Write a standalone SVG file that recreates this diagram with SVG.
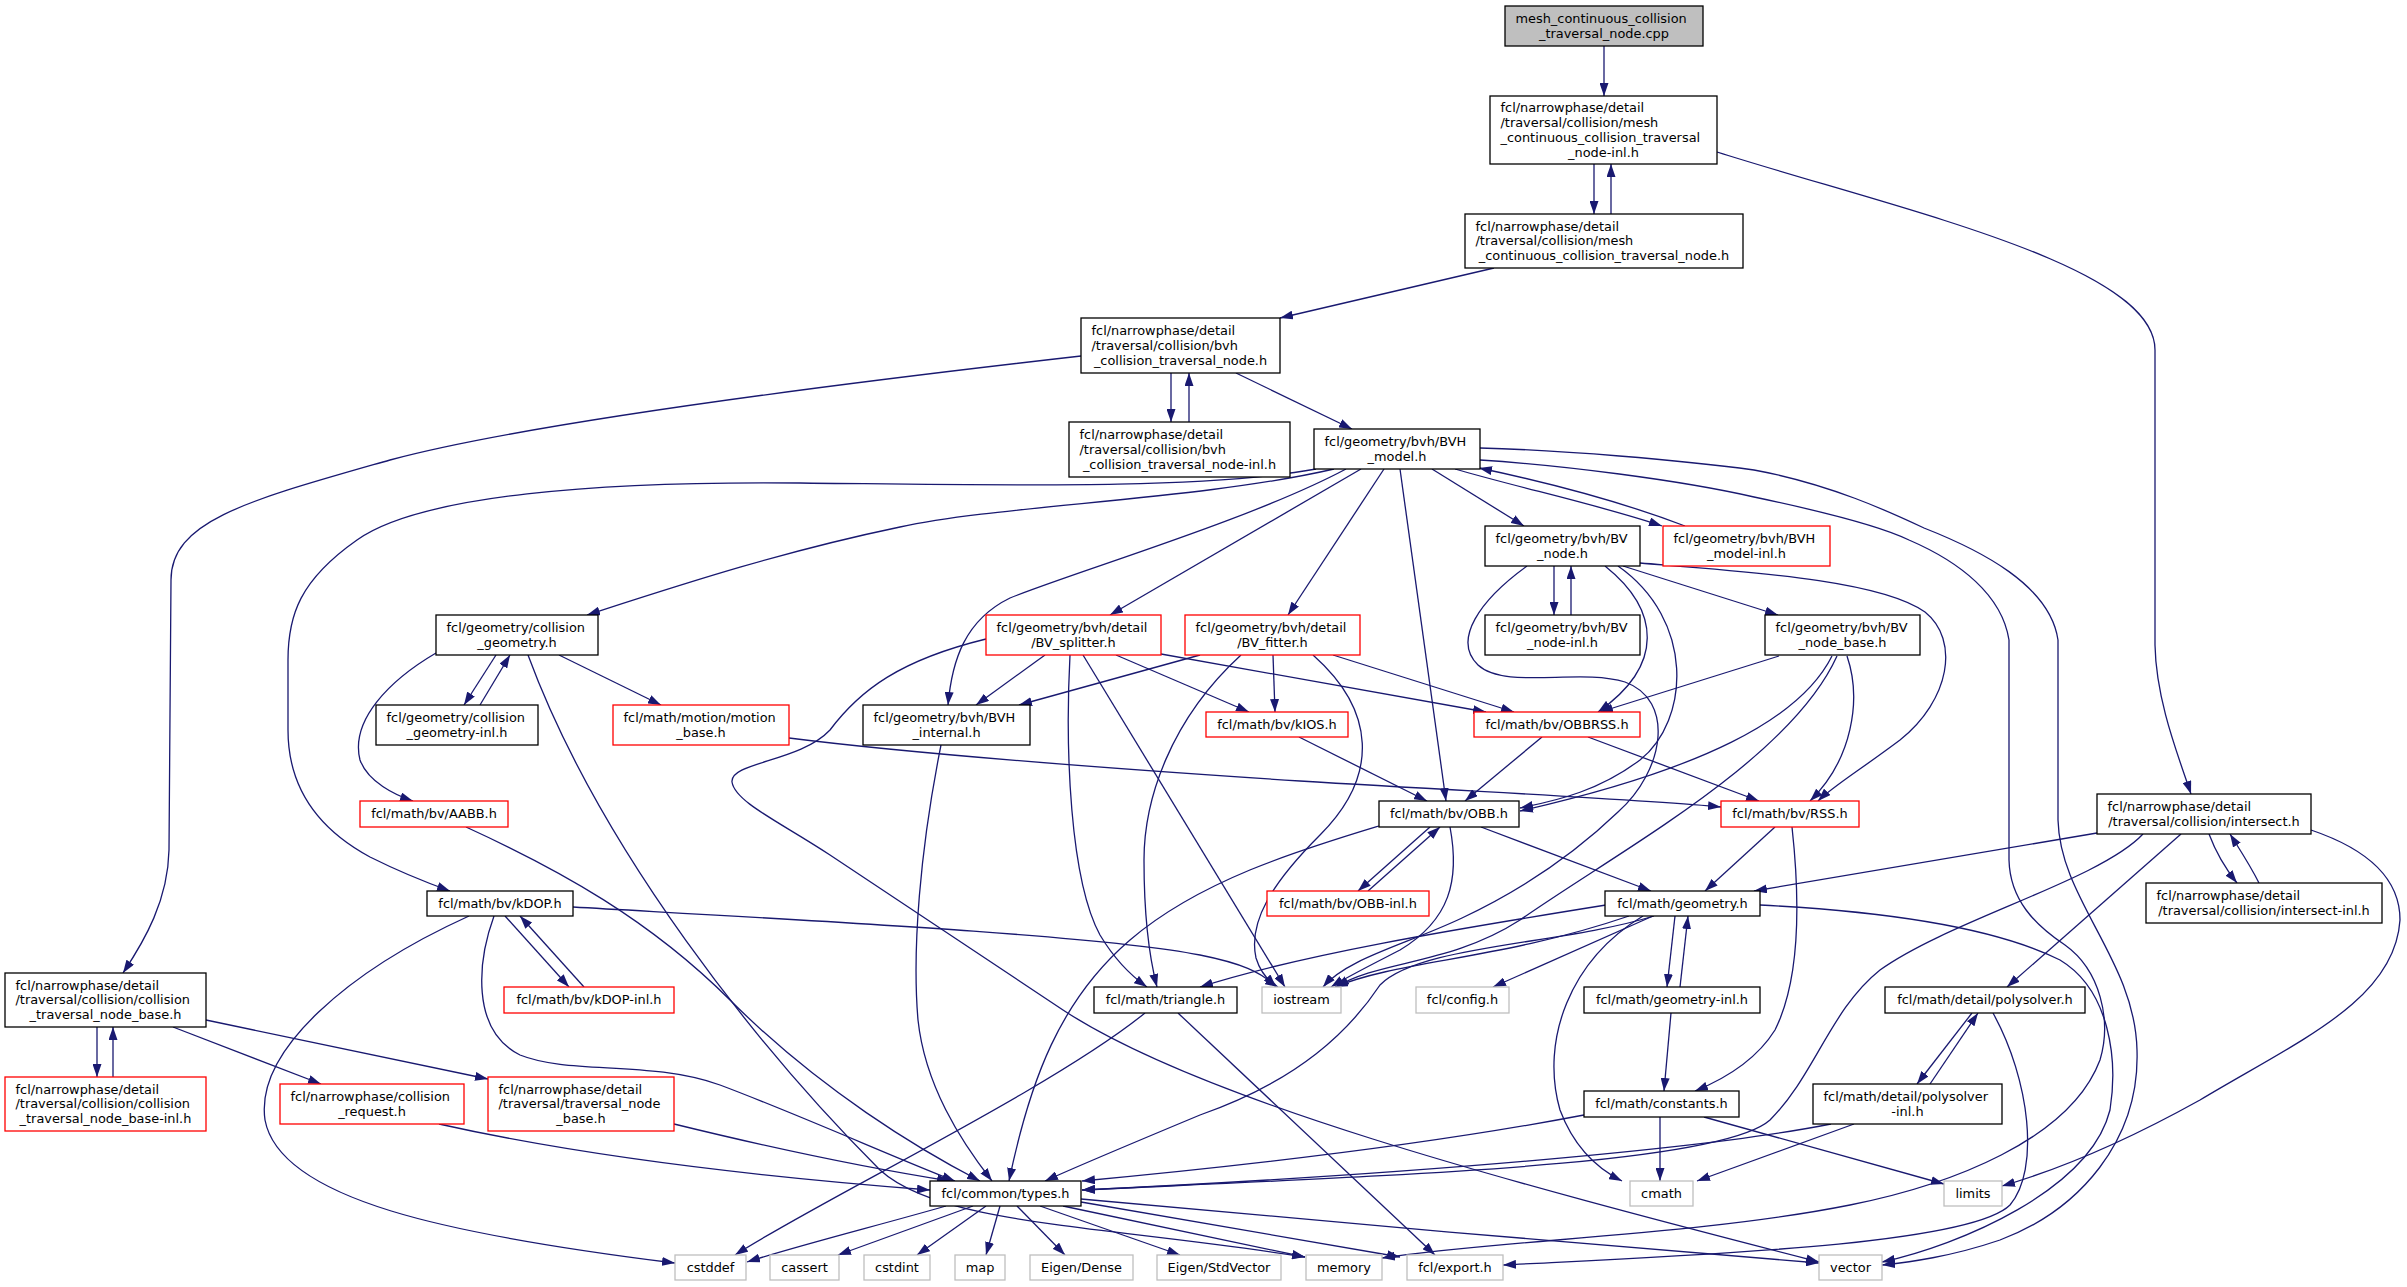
<svg xmlns="http://www.w3.org/2000/svg" width="2407" height="1287" viewBox="0 0 2407 1287">
<style>
.n rect{fill:#fff;stroke:#000;stroke-width:1.3}
.n.r rect{stroke:#f00}
.n.g rect{stroke:#bfbfbf}
.n.t rect{fill:#bfbfbf}
text{font-family:"DejaVu Sans","Liberation Sans",sans-serif;font-size:12.9px;fill:#000}
text.c{text-anchor:middle}
#edges path{fill:none;stroke:#191970;stroke-width:1.3;marker-end:url(#a)}
</style>
<defs>
<marker id="a" viewBox="0 0 13 9" refX="13" refY="4.5" markerUnits="userSpaceOnUse" markerWidth="13" markerHeight="9" orient="auto"><path d="M0,0L13,4.5L0,9z" fill="#191970"/></marker>
</defs>
<rect width="2407" height="1287" fill="#fff"/>
<g id="edges">
<path d="M1604,46 L1604,96"/>
<path d="M1594,164 L1594,214"/>
<path d="M1611,214 L1611,164"/>
<path d="M1717,152 C1900,210 2155,265 2155,350 L2155,645 C2156,700 2178,755 2191,794"/>
<path d="M1494,268 L1280,318"/>
<path d="M1171,373 L1171,422"/>
<path d="M1189,422 L1189,373"/>
<path d="M1236,373 L1352,429"/>
<path d="M1081,356 C800,388 520,425 390,460 C250,500 171,520 171,580 L169,850 C168,900 145,940 123,973"/>
<path d="M1334,469 C1200,500 1000,505 900,527 C780,552 680,585 587,615"/>
<path d="M1316,469 C1200,490 1000,485 800,483 C600,481 420,495 357,540 C300,580 288,615 288,660 L288,730 C288,790 320,830 370,857 C400,872 425,882 450,891"/>
<path d="M1346,469 C1250,520 1080,570 1010,598 C965,620 952,660 948,705"/>
<path d="M1361,469 L1110,615"/>
<path d="M1384,469 L1288,615"/>
<path d="M1400,469 L1446,801"/>
<path d="M1432,469 L1524,526"/>
<path d="M1455,469 C1520,488 1600,505 1662,526"/>
<path d="M1685,526 C1630,505 1560,485 1479,468"/>
<path d="M1480,448 C1560,450 1680,460 1754,470 C1830,484 1890,512 1924,528 C1980,550 2050,585 2058,640 L2058,820 C2060,900 2135,960 2137,1050 C2140,1140 2080,1210 2000,1240 C1950,1257 1910,1262 1882,1265"/>
<path d="M1480,460 C1560,465 1680,480 1754,497 C1830,513 1880,526 1909,540 C1960,562 2002,595 2009,640 L2009,860 C2010,900 2035,925 2065,945 C2100,970 2112,1020 2100,1060 C2070,1140 1950,1185 1850,1205 C1700,1235 1500,1240 1382,1258"/>
<path d="M1554,566 L1554,615"/>
<path d="M1571,615 L1571,566"/>
<path d="M1623,566 L1778,615"/>
<path d="M1605,566 C1660,610 1665,665 1598,712"/>
<path d="M1618,566 C1695,620 1690,720 1640,760 C1600,790 1560,800 1520,808"/>
<path d="M1527,566 C1480,600 1452,640 1478,665 C1505,690 1580,668 1625,682 C1675,700 1665,770 1618,812 C1570,858 1515,893 1462,918 C1405,945 1348,958 1323,987"/>
<path d="M1640,563 C1750,572 1880,580 1925,612 C1960,640 1950,700 1900,740 C1860,770 1832,787 1818,801"/>
<path d="M1779,656 L1600,712"/>
<path d="M1832,656 C1800,720 1700,770 1520,811"/>
<path d="M1837,656 C1790,760 1620,850 1520,920 C1450,965 1380,960 1336,987"/>
<path d="M1847,656 C1862,700 1852,760 1810,801"/>
<path d="M496,655 L464,705"/>
<path d="M480,705 L510,655"/>
<path d="M559,655 L661,705"/>
<path d="M436,653 C390,680 350,720 360,760 C368,782 395,795 413,801"/>
<path d="M528,655 C600,850 760,1050 880,1170 C940,1225 1100,1225 1305,1257"/>
<path d="M789,738 C900,752 1100,768 1300,781 C1500,793 1650,800 1721,807"/>
<path d="M466,827 C560,870 650,920 730,1000 C820,1090 920,1150 980,1181"/>
<path d="M1045,655 L976,705"/>
<path d="M1116,655 L1249,712"/>
<path d="M1161,654 L1486,712"/>
<path d="M1070,655 C1065,750 1070,880 1100,935 C1115,960 1130,975 1147,987"/>
<path d="M1083,655 L1285,987"/>
<path d="M986,639 C900,660 860,690 830,730 C800,762 730,762 732,782 C735,802 780,822 830,855 L1063,1010 C1200,1100 1500,1180 1819,1262"/>
<path d="M1200,655 L1019,705"/>
<path d="M1273,655 L1275,712"/>
<path d="M1333,655 L1514,712"/>
<path d="M1241,655 C1170,720 1144,800 1144,860 C1144,920 1150,960 1157,987"/>
<path d="M1313,655 C1375,710 1380,775 1320,835 C1272,883 1248,922 1256,958 C1260,971 1268,981 1278,987"/>
<path d="M941,745 C920,850 912,950 918,1020 C925,1085 960,1140 992,1181"/>
<path d="M1299,737 L1427,801"/>
<path d="M1542,737 L1465,801"/>
<path d="M1588,737 L1759,801"/>
<path d="M1430,827 L1358,891"/>
<path d="M1368,891 L1440,827"/>
<path d="M1481,827 L1651,891"/>
<path d="M1379,826 C1300,850 1200,880 1130,940 C1060,1000 1030,1080 1009,1181"/>
<path d="M1450,827 C1460,880 1450,920 1400,950 C1365,968 1345,978 1331,987"/>
<path d="M1775,827 L1705,891"/>
<path d="M1792,827 C1800,900 1800,980 1775,1030 C1755,1062 1722,1080 1695,1091"/>
<path d="M2209,834 C2215,850 2225,868 2237,883"/>
<path d="M2259,883 C2250,865 2240,850 2230,834"/>
<path d="M2097,833 L1754,891"/>
<path d="M2143,834 C2100,880 1950,920 1880,970 C1830,1010 1815,1075 1770,1120 C1720,1165 1400,1175 1082,1190"/>
<path d="M2181,834 L2007,987"/>
<path d="M2311,830 C2370,850 2400,880 2400,920 C2395,1000 2300,1040 2200,1100 C2110,1150 2040,1175 2002,1186"/>
<path d="M505,916 L569,987"/>
<path d="M584,987 L520,916"/>
<path d="M469,916 C350,970 255,1050 265,1120 C280,1200 450,1235 675,1263"/>
<path d="M573,907 C800,920 1100,935 1200,955 C1240,963 1262,972 1276,987"/>
<path d="M494,916 C478,960 470,1030 520,1055 C570,1075 650,1060 720,1085 C800,1115 900,1160 955,1181"/>
<path d="M97,1027 L97,1077"/>
<path d="M113,1077 L113,1027"/>
<path d="M173,1027 L321,1084"/>
<path d="M206,1020 L488,1079"/>
<path d="M439,1124 C600,1160 800,1180 930,1190"/>
<path d="M674,1124 C780,1150 880,1170 950,1181"/>
<path d="M1145,1013 C1050,1090 820,1200 735,1255"/>
<path d="M1178,1013 L1435,1255"/>
<path d="M946,1206 C880,1225 800,1245 747,1262"/>
<path d="M973,1206 L838,1255"/>
<path d="M986,1206 L917,1255"/>
<path d="M1000,1206 L986,1255"/>
<path d="M1017,1206 L1065,1255"/>
<path d="M1040,1206 L1180,1255"/>
<path d="M1063,1206 L1305,1257"/>
<path d="M1081,1202 L1400,1257"/>
<path d="M1081,1199 C1300,1220 1600,1245 1819,1263"/>
<path d="M1606,905 C1450,930 1300,955 1200,987"/>
<path d="M1629,916 C1500,960 1400,960 1335,987"/>
<path d="M1654,916 C1560,945 1420,945 1380,985 C1350,1030 1300,1080 1200,1115 C1140,1140 1080,1165 1045,1181"/>
<path d="M1653,916 L1493,987"/>
<path d="M1643,916 C1570,960 1540,1040 1560,1110 C1575,1150 1600,1170 1622,1181"/>
<path d="M1675,916 L1667,987"/>
<path d="M1680,987 L1688,916"/>
<path d="M1760,905 C1900,912 2000,930 2060,960 C2110,990 2118,1060 2110,1110 C2090,1190 1960,1245 1882,1262"/>
<path d="M1671,1013 L1664,1091"/>
<path d="M1660,1117 L1660,1181"/>
<path d="M1704,1117 L1944,1184"/>
<path d="M1972,1013 L1917,1084"/>
<path d="M1930,1084 L1978,1013"/>
<path d="M1854,1124 L1697,1181"/>
<path d="M1993,1013 C2030,1080 2040,1170 2010,1205 C1970,1245 1700,1255 1503,1265"/>
<path d="M1831,1124 C1700,1150 1400,1175 1082,1190"/>
<path d="M1584,1115 C1400,1150 1200,1170 1082,1181"/>
</g>
<g id="n_top" class="n t"><rect x="1505" y="6" width="198" height="40"/><text x="1515.5" y="22.9">mesh_continuous_collision</text><text class="c" x="1604" y="37.7">_traversal_node.cpp</text></g>
<g id="n_inl" class="n"><rect x="1490" y="96" width="227" height="68"/><text x="1500.5" y="112.1">fcl/narrowphase/detail</text><text x="1500.5" y="126.9">/traversal/collision/mesh</text><text x="1500.5" y="141.7">_continuous_collision_traversal</text><text class="c" x="1603.5" y="156.5">_node-inl.h</text></g>
<g id="n_node" class="n"><rect x="1465" y="214" width="278" height="54"/><text x="1475.5" y="230.5">fcl/narrowphase/detail</text><text x="1475.5" y="245.3">/traversal/collision/mesh</text><text class="c" x="1604" y="260.1">_continuous_collision_traversal_node.h</text></g>
<g id="n_bvh" class="n"><rect x="1081" y="318" width="199" height="55"/><text x="1091.5" y="335">fcl/narrowphase/detail</text><text x="1091.5" y="349.8">/traversal/collision/bvh</text><text class="c" x="1180.5" y="364.6">_collision_traversal_node.h</text></g>
<g id="n_bvhinl" class="n"><rect x="1069" y="422" width="221" height="55"/><text x="1079.5" y="439">fcl/narrowphase/detail</text><text x="1079.5" y="453.8">/traversal/collision/bvh</text><text class="c" x="1179.5" y="468.6">_collision_traversal_node-inl.h</text></g>
<g id="n_bvhmodel" class="n"><rect x="1314" y="429" width="166" height="40"/><text x="1324.5" y="445.9">fcl/geometry/bvh/BVH</text><text class="c" x="1397" y="460.7">_model.h</text></g>
<g id="n_bvnode" class="n"><rect x="1485" y="526" width="155" height="40"/><text x="1495.5" y="542.9">fcl/geometry/bvh/BV</text><text class="c" x="1562.5" y="557.7">_node.h</text></g>
<g id="n_bvhmodelinl" class="n r"><rect x="1663" y="526" width="167" height="40"/><text x="1673.5" y="542.9">fcl/geometry/bvh/BVH</text><text class="c" x="1746.5" y="557.7">_model-inl.h</text></g>
<g id="n_collgeom" class="n"><rect x="436" y="615" width="162" height="40"/><text x="446.5" y="631.9">fcl/geometry/collision</text><text class="c" x="517" y="646.7">_geometry.h</text></g>
<g id="n_splitter" class="n r"><rect x="986" y="615" width="175" height="40"/><text x="996.5" y="631.9">fcl/geometry/bvh/detail</text><text class="c" x="1073.5" y="646.7">/BV_splitter.h</text></g>
<g id="n_fitter" class="n r"><rect x="1185" y="615" width="175" height="40"/><text x="1195.5" y="631.9">fcl/geometry/bvh/detail</text><text class="c" x="1272.5" y="646.7">/BV_fitter.h</text></g>
<g id="n_bvnodeinl" class="n"><rect x="1485" y="615" width="155" height="40"/><text x="1495.5" y="631.9">fcl/geometry/bvh/BV</text><text class="c" x="1562.5" y="646.7">_node-inl.h</text></g>
<g id="n_bvnodebase" class="n"><rect x="1765" y="615" width="155" height="40"/><text x="1775.5" y="631.9">fcl/geometry/bvh/BV</text><text class="c" x="1842.5" y="646.7">_node_base.h</text></g>
<g id="n_collgeominl" class="n"><rect x="376" y="705" width="162" height="40"/><text x="386.5" y="721.9">fcl/geometry/collision</text><text class="c" x="457" y="736.7">_geometry-inl.h</text></g>
<g id="n_motion" class="n r"><rect x="613" y="705" width="176" height="40"/><text x="623.5" y="721.9">fcl/math/motion/motion</text><text class="c" x="701" y="736.7">_base.h</text></g>
<g id="n_bvhinternal" class="n"><rect x="863" y="705" width="167" height="40"/><text x="873.5" y="721.9">fcl/geometry/bvh/BVH</text><text class="c" x="946.5" y="736.7">_internal.h</text></g>
<g id="n_kios" class="n r"><rect x="1206" y="712" width="142" height="25"/><text class="c" x="1277" y="728.8">fcl/math/bv/kIOS.h</text></g>
<g id="n_obbrss" class="n r"><rect x="1474" y="712" width="166" height="25"/><text class="c" x="1557" y="728.8">fcl/math/bv/OBBRSS.h</text></g>
<g id="n_aabb" class="n r"><rect x="360" y="801" width="148" height="26"/><text class="c" x="434" y="818.3">fcl/math/bv/AABB.h</text></g>
<g id="n_obb" class="n"><rect x="1379" y="801" width="140" height="26"/><text class="c" x="1449" y="818.3">fcl/math/bv/OBB.h</text></g>
<g id="n_rss" class="n r"><rect x="1721" y="801" width="138" height="26"/><text class="c" x="1790" y="818.3">fcl/math/bv/RSS.h</text></g>
<g id="n_intersect" class="n"><rect x="2097" y="794" width="214" height="40"/><text x="2107.5" y="810.9">fcl/narrowphase/detail</text><text class="c" x="2204" y="825.7">/traversal/collision/intersect.h</text></g>
<g id="n_kdop" class="n"><rect x="427" y="891" width="146" height="25"/><text class="c" x="500" y="907.8">fcl/math/bv/kDOP.h</text></g>
<g id="n_obbinl" class="n r"><rect x="1267" y="891" width="162" height="25"/><text class="c" x="1348" y="907.8">fcl/math/bv/OBB-inl.h</text></g>
<g id="n_geometry" class="n"><rect x="1605" y="891" width="155" height="25"/><text class="c" x="1682.5" y="907.8">fcl/math/geometry.h</text></g>
<g id="n_intersectinl" class="n"><rect x="2146" y="883" width="236" height="40"/><text x="2156.5" y="899.9">fcl/narrowphase/detail</text><text class="c" x="2264" y="914.7">/traversal/collision/intersect-inl.h</text></g>
<g id="n_ctnb" class="n"><rect x="5" y="973" width="201" height="54"/><text x="15.5" y="989.5">fcl/narrowphase/detail</text><text x="15.5" y="1004.3">/traversal/collision/collision</text><text class="c" x="105.5" y="1019.1">_traversal_node_base.h</text></g>
<g id="n_kdopinl" class="n r"><rect x="504" y="987" width="170" height="26"/><text class="c" x="589" y="1004.3">fcl/math/bv/kDOP-inl.h</text></g>
<g id="n_triangle" class="n"><rect x="1094" y="987" width="143" height="26"/><text class="c" x="1165.5" y="1004.3">fcl/math/triangle.h</text></g>
<g id="n_iostream" class="n g"><rect x="1262" y="987" width="79" height="26"/><text class="c" x="1301.5" y="1004.3">iostream</text></g>
<g id="n_config" class="n g"><rect x="1416" y="987" width="93" height="26"/><text class="c" x="1462.5" y="1004.3">fcl/config.h</text></g>
<g id="n_geominl" class="n"><rect x="1584" y="987" width="176" height="26"/><text class="c" x="1672" y="1004.3">fcl/math/geometry-inl.h</text></g>
<g id="n_polysolver" class="n"><rect x="1885" y="987" width="200" height="26"/><text class="c" x="1985" y="1004.3">fcl/math/detail/polysolver.h</text></g>
<g id="n_ctnbinl" class="n r"><rect x="5" y="1077" width="201" height="54"/><text x="15.5" y="1093.5">fcl/narrowphase/detail</text><text x="15.5" y="1108.3">/traversal/collision/collision</text><text class="c" x="105.5" y="1123.1">_traversal_node_base-inl.h</text></g>
<g id="n_request" class="n r"><rect x="280" y="1084" width="184" height="40"/><text x="290.5" y="1100.9">fcl/narrowphase/collision</text><text class="c" x="372" y="1115.7">_request.h</text></g>
<g id="n_tnb" class="n r"><rect x="488" y="1077" width="186" height="54"/><text x="498.5" y="1093.5">fcl/narrowphase/detail</text><text x="498.5" y="1108.3">/traversal/traversal_node</text><text class="c" x="581" y="1123.1">_base.h</text></g>
<g id="n_constants" class="n"><rect x="1584" y="1091" width="155" height="26"/><text class="c" x="1661.5" y="1108.3">fcl/math/constants.h</text></g>
<g id="n_polysolverinl" class="n"><rect x="1813" y="1084" width="189" height="40"/><text x="1823.5" y="1100.9">fcl/math/detail/polysolver</text><text class="c" x="1907.5" y="1115.7">-inl.h</text></g>
<g id="n_types" class="n"><rect x="930" y="1181" width="151" height="25"/><text class="c" x="1005.5" y="1197.8">fcl/common/types.h</text></g>
<g id="n_cmath" class="n g"><rect x="1630" y="1181" width="63" height="25"/><text class="c" x="1661.5" y="1197.8">cmath</text></g>
<g id="n_limits" class="n g"><rect x="1944" y="1181" width="58" height="25"/><text class="c" x="1973" y="1197.8">limits</text></g>
<g id="n_cstddef" class="n g"><rect x="675" y="1255" width="71" height="25"/><text class="c" x="710.5" y="1271.8">cstddef</text></g>
<g id="n_cassert" class="n g"><rect x="770" y="1255" width="69" height="25"/><text class="c" x="804.5" y="1271.8">cassert</text></g>
<g id="n_cstdint" class="n g"><rect x="864" y="1255" width="66" height="25"/><text class="c" x="897" y="1271.8">cstdint</text></g>
<g id="n_map" class="n g"><rect x="955" y="1255" width="50" height="25"/><text class="c" x="980" y="1271.8">map</text></g>
<g id="n_eigendense" class="n g"><rect x="1030" y="1255" width="103" height="25"/><text class="c" x="1081.5" y="1271.8">Eigen/Dense</text></g>
<g id="n_eigenstd" class="n g"><rect x="1157" y="1255" width="124" height="25"/><text class="c" x="1219" y="1271.8">Eigen/StdVector</text></g>
<g id="n_memory" class="n g"><rect x="1306" y="1255" width="76" height="25"/><text class="c" x="1344" y="1271.8">memory</text></g>
<g id="n_export" class="n g"><rect x="1407" y="1255" width="96" height="25"/><text class="c" x="1455" y="1271.8">fcl/export.h</text></g>
<g id="n_vector" class="n g"><rect x="1819" y="1255" width="63" height="25"/><text class="c" x="1850.5" y="1271.8">vector</text></g>
</svg>
